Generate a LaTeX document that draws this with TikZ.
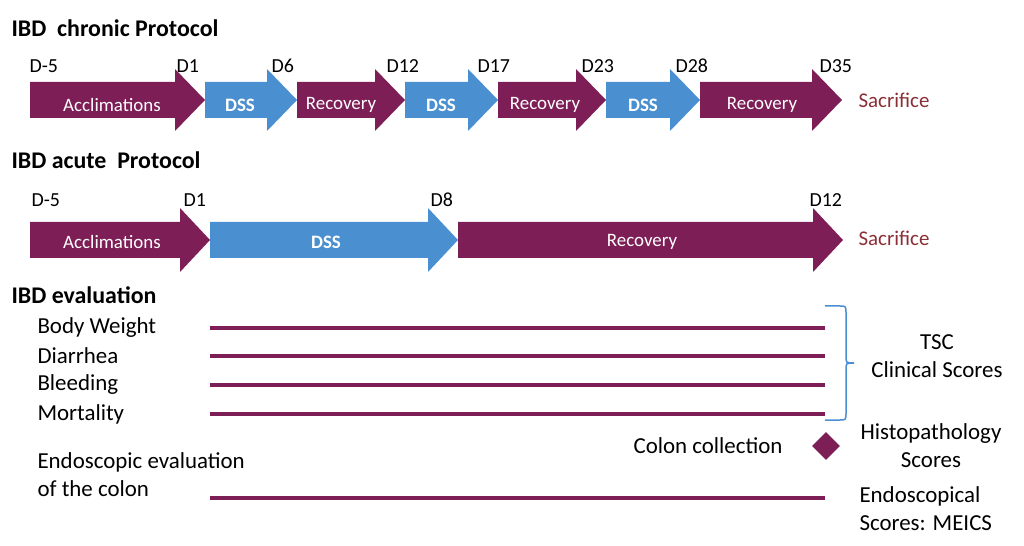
\documentclass[tikz,border=0pt]{standalone}
\usepackage{fontspec}
\setmainfont{Carlito}
\usetikzlibrary{shapes.geometric}
\begin{document}
\begin{tikzpicture}[x=1bp,y=-1bp,
  lbl/.style={font=\fontsize{23}{28}\selectfont},
  inarr/.style={text=white,font=\fontsize{19}{21}\selectfont},
  day/.style={font=\fontsize{20}{22}\selectfont,anchor=west},
  ttl/.style={font=\fontsize{24}{26}\selectfont\bfseries,anchor=west},
  sac/.style={text=sacc,font=\fontsize{21}{23}\selectfont,anchor=west},
  bar/.style={draw=purp,line width=4bp}]
\definecolor{purp}{HTML}{7E1E57}
\definecolor{blu}{HTML}{4A8FD0}
\definecolor{sacc}{HTML}{8B2E35}
\useasboundingbox (0,0) rectangle (1024,546);
\newcommand\arrw[6]{% x1,x2,yc,halfbody,halfhead,color
  \fill[#6] (#1,#3-#4) -- (#2-30,#3-#4) -- (#2-30,#3-#5) -- (#2,#3) -- (#2-30,#3+#5) -- (#2-30,#3+#4) -- (#1,#3+#4) -- cycle;}
% titles
\node[ttl] (t1) at (8,28) {IBD\ \ chronic Protocol};
\node[ttl] (t2) at (8,160) {IBD acute\ \ Protocol};
\node[ttl] (t3) at (8,295) {IBD evaluation};
% chronic
\arrw{30}{205}{100}{18}{31}{purp}
\arrw{205}{297}{100}{18}{31}{blu}
\arrw{297}{405}{100}{18}{31}{purp}
\arrw{405}{498}{100}{18}{31}{blu}
\arrw{498}{606}{100}{18}{31}{purp}
\arrw{606}{700}{100}{18}{31}{blu}
\arrw{700}{842}{100}{18}{31}{purp}
\node[inarr] (c1) at (112,105) {Acclimations};
\node[inarr] (c2) at (240,105) {\bfseries DSS};
\node[inarr] (c3) at (341,105) {Recovery};
\node[inarr] (c4) at (441,105) {\bfseries DSS};
\node[inarr] (c5) at (545,105) {Recovery};
\node[inarr] (c6) at (643,105) {\bfseries DSS};
\node[inarr] (c7) at (762,105) {Recovery};
\foreach \x/\t in {26/D-5,173/D1,268/D6,383/D12,474/D17,578/D23,672/D28,816/D35}
  \node[day] at (\x,66) {\t};
\node[sac] (s1) at (855,100) {Sacrifice};
% acute
\arrw{30}{210}{240}{18}{32}{purp}
\arrw{210}{458}{240}{18}{32}{blu}
\arrw{458}{843}{240}{18}{32}{purp}
\node[inarr] (a1) at (112,242) {Acclimations};
\node[inarr] (a2) at (326,242) {\bfseries DSS};
\node[inarr] (a3) at (642,242) {Recovery};
\foreach \x/\t in {28/D-5,180/D1,427/D8,806/D12}
  \node[day] at (\x,200) {\t};
\node[sac] (s2) at (855,238) {Sacrifice};
% evaluation
\foreach \y/\t in {328/Body Weight,356/Diarrhea,385/Bleeding,414/Mortality}{
  \node[lbl,anchor=west] at (34,\y) {\t};
  \draw[bar] (210,\y) -- (825,\y);}
\draw[blu,line width=1.5bp] (825,306) -- (840,306) .. controls (846,306) .. (846,314) -- (846,356) .. controls (846,363) .. (854,363) .. controls (846,363) .. (846,370) -- (846,412) .. controls (846,420) .. (840,420) -- (825,420);
\node[lbl,align=center] (tsc) at (937,356) {TSC\\Clinical Scores};
\node[fill=purp,diamond,minimum width=28bp,minimum height=28bp,inner sep=0pt] (dm) at (826,446) {};
\node[lbl,anchor=east] (cc) at (786,446) {Colon collection};
\node[lbl,align=center] (hp) at (931,446) {Histopathology\\Scores};
\node[lbl,align=left,anchor=west] (en) at (34,475) {Endoscopic evaluation\\of the colon};
\draw[bar] (210,498) -- (825,498);
\node[lbl,align=left,anchor=west] (ms) at (856,509) {Endoscopical\\Scores: MEICS};
\end{tikzpicture}
\end{document}
